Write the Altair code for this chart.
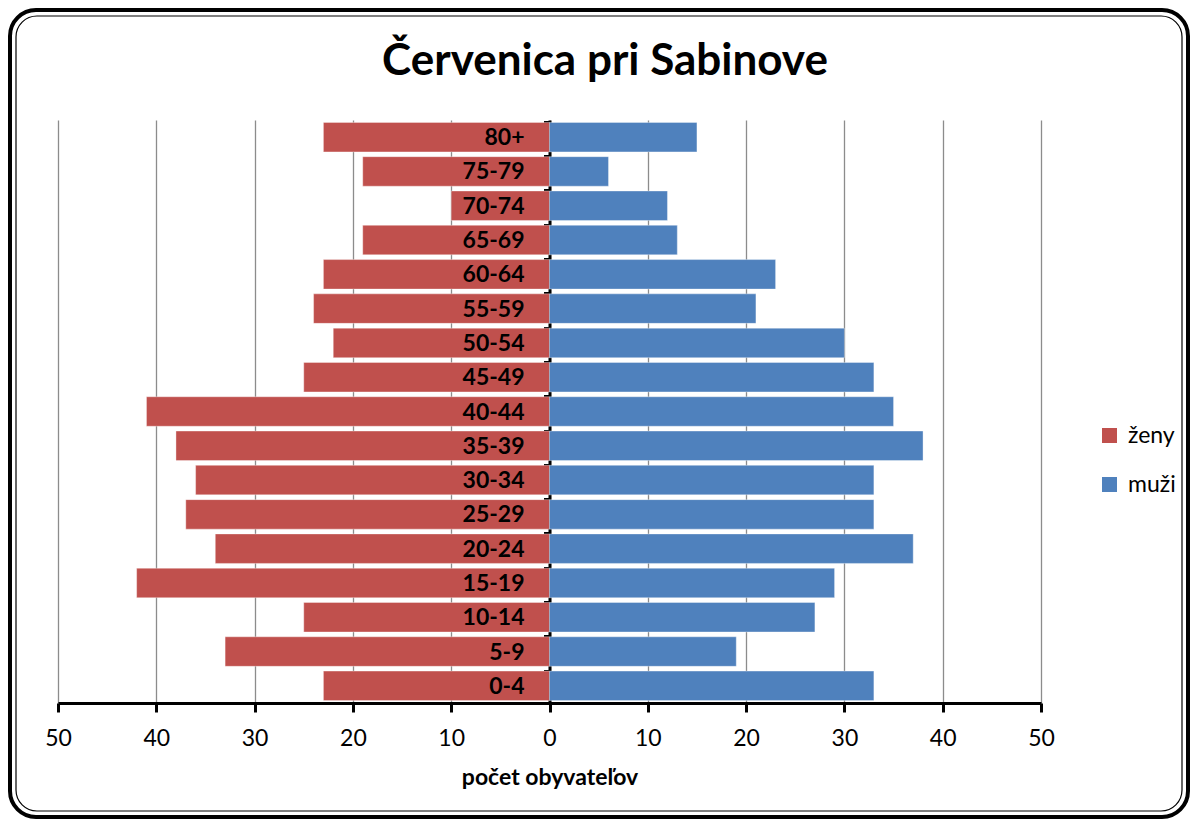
import altair as alt
import pandas as pd

ages = ["80+", "75-79", "70-74", "65-69", "60-64", "55-59", "50-54", "45-49",
        "40-44", "35-39", "30-34", "25-29", "20-24", "15-19", "10-14", "5-9", "0-4"]
zeny = [23, 19, 10, 19, 23, 24, 22, 25, 41, 38, 36, 37, 34, 42, 25, 33, 23]
muzi = [15, 6, 12, 13, 23, 21, 30, 33, 35, 38, 33, 33, 37, 29, 27, 19, 33]
series = ["ženy", "muži"]
colors = ["#C0504D", "#4F81BD"]
tick_values = [-50, -40, -30, -20, -10, 0, 10, 20, 30, 40, 50]
title_text = "Červenica pri Sabinove"

FONT = "Lato"

rows = []
for a, z, m in zip(ages, zeny, muzi):
    rows.append({"vek": a, "pohlavie": "ženy", "pocet": -z})
    rows.append({"vek": a, "pohlavie": "muži", "pocet": m})
df = pd.DataFrame(rows)
lab = pd.DataFrame({"vek": ages, "x": [0] * len(ages)})

W, H = 983, 583

xscale = alt.Scale(domain=[-50, 50], nice=False)
yscale = alt.Scale(domain=ages, paddingInner=0.14, paddingOuter=0.07)

bars = alt.Chart(df).mark_bar(stroke="white", strokeWidth=0.6, strokeOpacity=0.6).encode(
    x=alt.X("pocet:Q", scale=xscale,
            axis=alt.Axis(values=tick_values, labelExpr="abs(datum.value)",
                          labelFlush=False,
                          title="počet obyvateľov", titleFont=FONT, titleFontSize=23,
                          titleFontWeight="bold", titleColor="black", titlePadding=16,
                          labelFont=FONT, labelFontSize=23, labelColor="black",
                          labelPadding=15, tickSize=9, tickWidth=3, tickColor="black",
                          domainColor="black", domainWidth=3,
                          grid=True, gridColor="#8c8c8c", gridWidth=1.3)),
    y=alt.Y("vek:N", scale=yscale, sort=ages,
            axis=alt.Axis(title=None, labels=False, offset=-W / 2, domainColor="black",
                          domainWidth=3, ticks=True, tickColor="black", tickWidth=3,
                          tickSize=6, bandPosition=0, grid=False)),
    color=alt.Color("pohlavie:N", scale=alt.Scale(domain=series, range=colors),
                    legend=alt.Legend(title=None, orient="none", legendX=1040, legendY=304,
                                      symbolType="square", symbolSize=225,
                                      symbolStrokeWidth=0, labelFont=FONT,
                                      labelFontSize=23, labelColor="black",
                                      rowPadding=25, labelOffset=7)),
)

labels = alt.Chart(lab).mark_text(align="right", baseline="middle", dx=-25, dy=1,
                                  font=FONT, fontSize=23, fontWeight="bold",
                                  color="black").encode(
    x=alt.X("x:Q", scale=xscale),
    y=alt.Y("vek:N", scale=yscale, sort=ages),
    text="vek:N",
)

one = pd.DataFrame({"a": [0]})
title = alt.Chart(pd.DataFrame({"t": [title_text]})).mark_text(
    align="center", baseline="alphabetic", font=FONT, fontSize=44, fontWeight="bold",
    color="black").encode(x=alt.value(547), y=alt.value(-45), text="t:N")

frame_outer = alt.Chart(one).mark_rect(fill=None, stroke="black", strokeWidth=4,
                                       cornerRadius=26).encode(
    x=alt.value(-48), x2=alt.value(1130), y=alt.value(-110), y2=alt.value(697))
frame_inner = alt.Chart(one).mark_rect(fill=None, stroke="black", strokeWidth=1.2,
                                       cornerRadius=21).encode(
    x=alt.value(-42), x2=alt.value(1124), y=alt.value(-104), y2=alt.value(691))

chart = alt.layer(frame_outer, frame_inner, title, bars, labels).properties(
    width=W, height=H, padding=0,
).configure_view(stroke=None)

chart.save("out.html", embed_options={"renderer": "svg", "actions": False})
